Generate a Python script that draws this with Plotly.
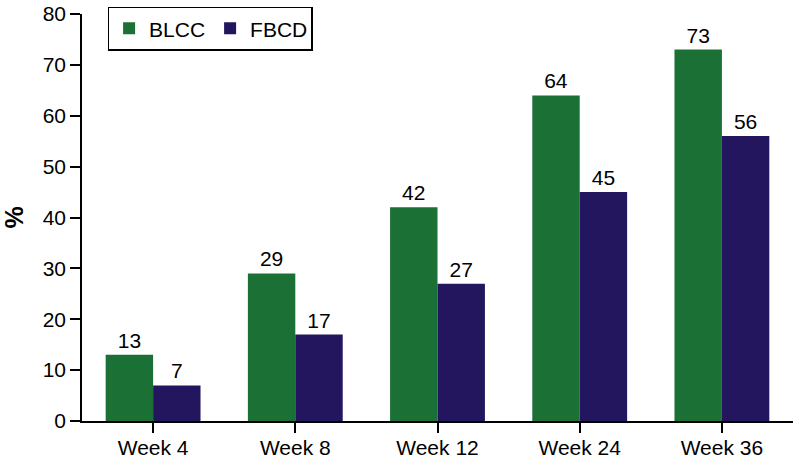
import plotly.graph_objects as go

categories = ["Week 4", "Week 8", "Week 12", "Week 24", "Week 36"]
blcc = [13, 29, 42, 64, 73]
fbcd = [7, 17, 27, 45, 56]
y_ticks = [0, 10, 20, 30, 40, 50, 60, 70, 80]

GREEN = "#1b7035"
PURPLE = "#23165f"
FONT = "Liberation Sans, Arial, sans-serif"
FS = 21

fig = go.Figure()
fig.add_trace(go.Bar(x=categories, y=blcc, name="BLCC", marker_color=GREEN,
                     marker_line_width=0,
                     text=blcc, textposition="outside", cliponaxis=False,
                     textfont=dict(size=FS, color="black")))
fig.add_trace(go.Bar(x=categories, y=fbcd, name="FBCD", marker_color=PURPLE,
                     marker_line_width=0,
                     text=fbcd, textposition="outside", cliponaxis=False,
                     textfont=dict(size=FS, color="black")))

fig.update_layout(
    width=794, height=460,
    margin=dict(l=82, r=1, t=14, b=39, autoexpand=False),
    plot_bgcolor="white", paper_bgcolor="white",
    font=dict(family=FONT, size=FS, color="black"),
    barmode="group", bargap=0.333, bargroupgap=0,
    showlegend=True,
    legend=dict(orientation="h", x=0.036, y=1.018, xanchor="left", yanchor="top",
                bordercolor="black", borderwidth=1.5, bgcolor="white",
                font=dict(size=FS), itemwidth=30, tracegroupgap=0,
                entrywidth=56, entrywidthmode="pixels"),
    xaxis=dict(showline=True, linecolor="black", linewidth=1.5,
               ticks="outside", ticklen=10, tickcolor="black", tickwidth=1.5,
               showgrid=False, zeroline=False, automargin=False,
               ticklabelstandoff=-3),
    yaxis=dict(range=[0, 80], tickvals=y_ticks, showline=True, linecolor="black",
               linewidth=1.5, ticks="outside", ticklen=10, tickcolor="black",
               tickwidth=1.5, showgrid=False, zeroline=False, automargin=False,
               title=dict(text="<b>%</b>", standoff=27)),
)

fig.write_html("out.html", config={"displayModeBar": False},
               post_script="document.body.style.margin='0';document.body.style.padding='0';")
